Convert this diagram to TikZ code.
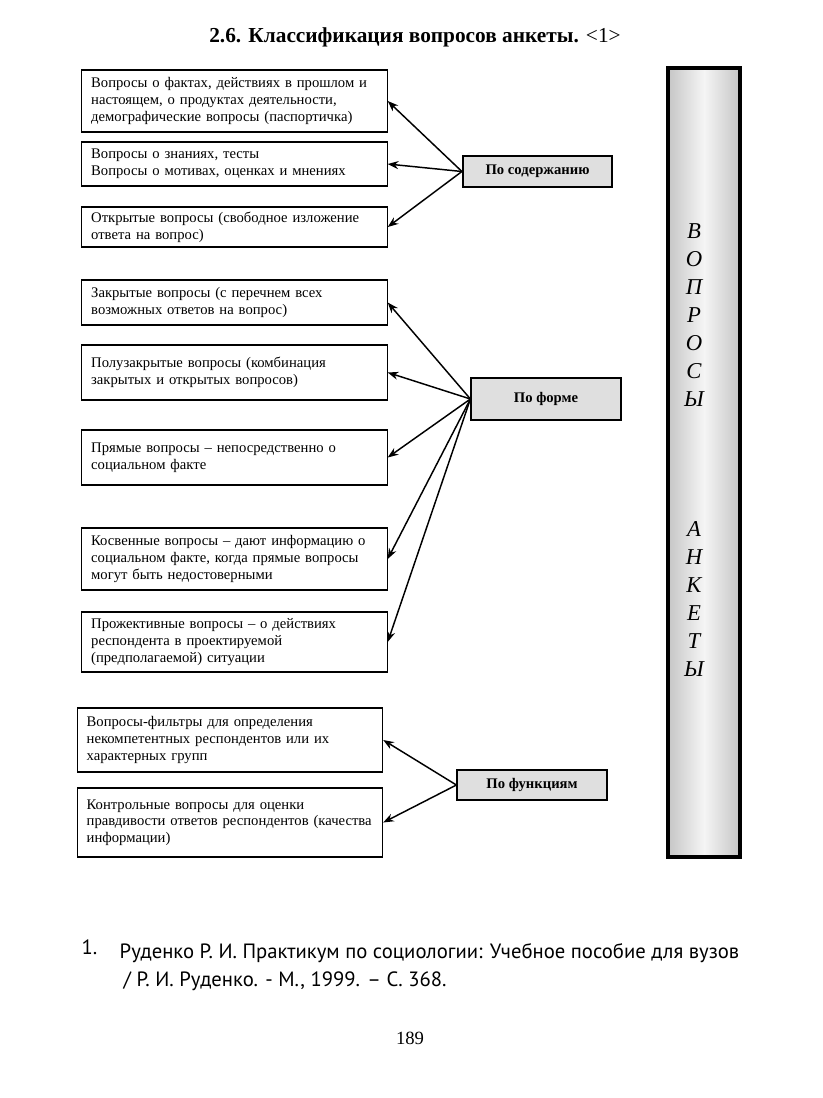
\documentclass[tikz,border=0pt]{standalone}
\usepackage{fontspec}
\setmainfont{Liberation Serif}
\newfontfamily\fnfont{PT Sans}
\usetikzlibrary{arrows.meta}

\begin{document}
\begin{tikzpicture}[x=0.75pt,y=-0.75pt,
  qbox/.style={draw,thick,text width=215pt,inner xsep=7pt,align=left,font=\fontsize{11}{12.5}\selectfont},
  kind/.style={draw,line width=1.4pt,fill=gray!25,minimum width=112pt,font=\bfseries\fontsize{11}{13}\selectfont},
  post/.style={->,>={Stealth[length=8pt,width=6pt]},line width=1.1pt}]

\useasboundingbox (0,0) rectangle (823,1098);

\node[font=\fontsize{16}{19}\selectfont] (title) at (415,37) {\textbf{2.6. Классификация вопросов анкеты.} \textless1\textgreater};

% po soderzhaniyu
\node[qbox,minimum height=46.5pt] (v1) at (234.5,101) {Вопросы о фактах, действиях в прошлом и\\настоящем, о продуктах деятельности,\\демографические вопросы (паспортичка)};
\node[qbox,minimum height=33pt] (v2) at (234.5,164) {Вопросы о знаниях, тесты\\Вопросы о мотивах, оценках и мнениях};
\node[qbox,minimum height=30pt] (v3) at (234.5,227) {Открытые вопросы (свободное изложение\\ответа на вопрос)};

% po forme
\node[qbox,minimum height=33.75pt] (v4) at (234.5,302.5) {Закрытые вопросы (с перечнем всех\\возможных ответов на вопрос)};
\node[qbox,minimum height=41.25pt] (v5) at (234.5,372.5) {Полузакрытые вопросы (комбинация\\закрытых и открытых вопросов)};
\node[qbox,minimum height=41.25pt] (v6) at (234.5,457.5) {Прямые вопросы – непосредственно о\\социальном факте};
\node[qbox,minimum height=46.5pt] (v7) at (234.5,559) {Косвенные вопросы – дают информацию о\\социальном факте, когда прямые вопросы\\могут быть недостоверными};
\node[qbox,minimum height=45pt] (v8) at (234.5,642) {Прожективные вопросы – о действиях\\респондента в проектируемой\\(предполагаемой) ситуации};

% po funkciyam
\node[qbox,minimum height=48pt] (v9) at (230,740) {Вопросы-фильтры для определения\\некомпетентных респондентов или их\\характерных групп};
\node[qbox,minimum height=51.75pt] (v10) at (230,822.5) {Контрольные вопросы для оценки\\правдивости ответов респондентов (качества\\информации)};

\node[kind,minimum height=23pt] (k1) at (537.5,171.5) {По содержанию};
\node[kind,minimum height=31.5pt] (k2) at (546,399) {По форме};
\node[kind,minimum height=22.5pt] (k3) at (532,785) {По функциям};

\foreach \b in {v1,v2,v3}{
\path (k1.west) edge[post] (\b.east);
}
\foreach \b in {v4,v5,v6,v7,v8}{
\path (k2.west) edge[post] (\b.east);
}
\foreach \b in {v9,v10}{
\path (k3.west) edge[post] (\b.east);
}

\node[draw,line width=2.5pt,minimum width=54pt,minimum height=591.75pt,left color=gray!45,right color=gray!45,middle color=gray!8] (bar) at (704,462.5) {};
\node[font=\itshape\fontsize{17}{21}\selectfont,align=center] (w1) at (694,315) {В\\О\\П\\Р\\О\\С\\Ы};
\node[font=\itshape\fontsize{17}{21}\selectfont,align=center] (w2) at (694,599) {А\\Н\\К\\Е\\Т\\Ы};

\node[anchor=base west,font=\fnfont\fontsize{15.5}{18}\selectfont] (fnnum) at (77,954) {1.};
\node[anchor=base west,font=\fnfont\fontsize{15.5}{18}\selectfont] (fn1) at (115,958) {Руденко Р. И. Практикум по социологии: Учебное пособие для вузов};
\node[anchor=base west,font=\fnfont\fontsize{15.5}{18}\selectfont] (fn2) at (119,986) {/ Р. И. Руденко. - М., 1999. – С. 368.};

\node[font=\fontsize{14}{16}\selectfont] (page) at (410,1038) {189};

\end{tikzpicture}
\end{document}
